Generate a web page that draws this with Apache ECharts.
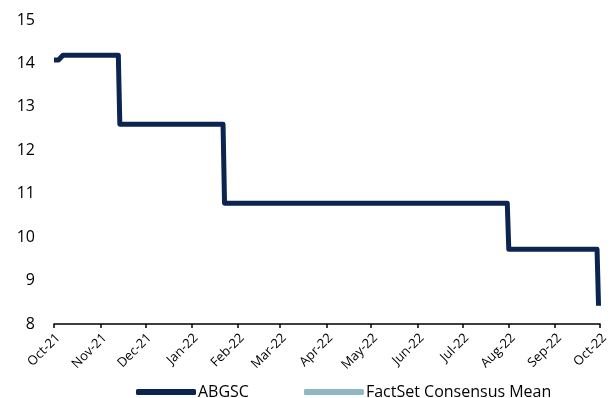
<!DOCTYPE html>
<html>
<head>
<meta charset="utf-8">
<script src="https://cdn.jsdelivr.net/npm/echarts@6/dist/echarts.min.js"></script>
<style>
html,body{margin:0;padding:0;background:#fff;}
#c{width:611px;height:398px;}
</style>
</head>
<body>
<div id="c"></div>
<script>
// Data
var abgscDates = ['2021-10-01','2021-10-04','2021-10-07','2021-11-13','2021-11-14','2022-01-22','2022-01-23','2022-07-31','2022-08-01','2022-09-29','2022-09-30'];
var abgscValues = [14.08, 14.08, 14.19, 14.19, 12.6, 12.6, 10.78, 10.78, 9.72, 9.72, 8.42];
var factsetDates = [];
var factsetValues = [];
var tickDates = ['2021-10-01','2021-11-01','2021-12-01','2022-01-01','2022-02-01','2022-03-01','2022-04-01','2022-05-01','2022-06-01','2022-07-01','2022-08-01','2022-09-01','2022-10-01'];
var tickLabels = ['Oct-21','Nov-21','Dec-21','Jan-22','Feb-22','Mar-22','Apr-22','May-22','Jun-22','Jul-22','Aug-22','Sep-22','Oct-22'];
var seriesNames = ['ABGSC','FactSet Consensus Mean'];

var DAY = 86400000;
function dayNum(d){ var p=d.split('-'); return Math.round(Date.UTC(+p[0], +p[1]-1, +p[2]) / DAY); }
var tickDays = tickDates.map(dayNum);
var labelMap = {};
tickDays.forEach(function(t,i){ labelMap[t]=tickLabels[i]; });

var font = '"Open Sans", Lato, sans-serif';
var chart = echarts.init(document.getElementById('c'), null, {renderer:'canvas'});
chart.setOption({
  animation:false,
  grid:{left:54, right:8, top:20, bottom:74, containLabel:false},
  legend:{
    left:131, top:379,
    itemWidth:60, itemHeight:6, itemGap:55,
    icon:'roundRect',
    textStyle:{fontFamily:font, fontSize:16, color:'#000', padding:[0,0,0,-3]},
    data:seriesNames
  },
  xAxis:{
    type:'value',
    min:tickDays[0], max:tickDays[tickDays.length-1],
    axisLine:{show:true, onZero:false, lineStyle:{color:'#000', width:1.5}},
    axisTick:{show:true, customValues:tickDays, length:4, lineStyle:{color:'#000', width:1.5}},
    axisLabel:{customValues:tickDays, rotate:45, fontFamily:font, fontSize:13, color:'#000', margin:16,
      padding:[0,-6,0,0],
      formatter:function(v){ return labelMap[Math.round(v)] || ''; }},
    splitLine:{show:false}
  },
  yAxis:{
    type:'value', min:8, max:15, interval:1,
    axisLine:{show:false}, axisTick:{show:false},
    axisLabel:{fontFamily:font, fontSize:16, color:'#000', margin:19},
    splitLine:{show:false}
  },
  series:[
    {name:seriesNames[0], type:'line', showSymbol:false, symbol:'none',
     data:abgscDates.map(function(d,i){return [dayNum(d), abgscValues[i]];}),
     lineStyle:{color:'#0b2550', width:5, join:'round', cap:'butt'},
     itemStyle:{color:'#0b2550'}},
    {name:seriesNames[1], type:'line', showSymbol:false, symbol:'none',
     data:factsetDates.map(function(d,i){return [dayNum(d), factsetValues[i]];}),
     lineStyle:{color:'#8fb7c6', width:5},
     itemStyle:{color:'#8fb7c6'}}
  ]
});
</script>
</body>
</html>
